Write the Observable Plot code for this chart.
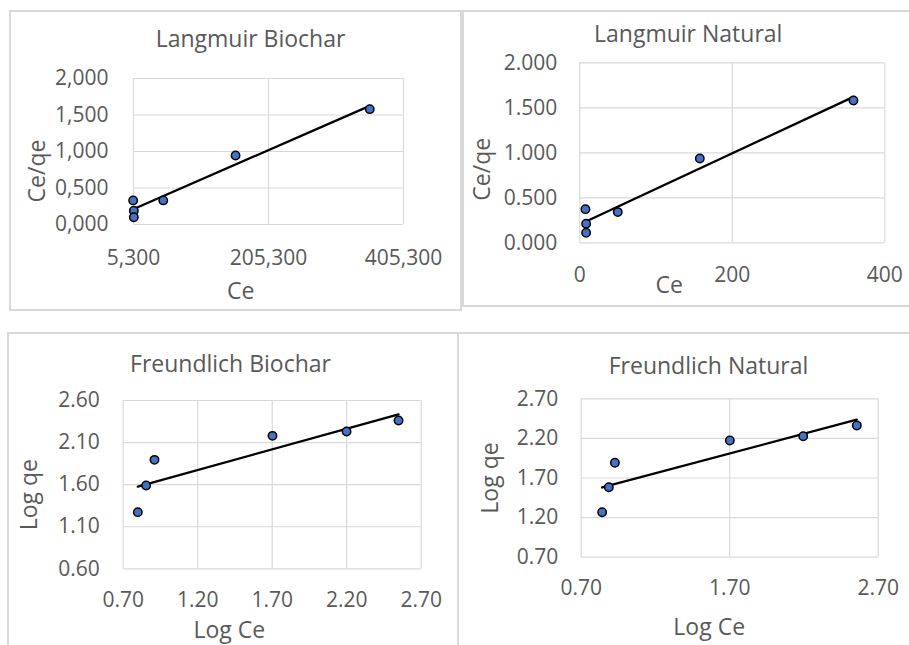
<!DOCTYPE html>
<html>
<head>
<meta charset="utf-8">
<script src="https://cdn.jsdelivr.net/npm/d3@7"></script>
<script src="https://cdn.jsdelivr.net/npm/@observablehq/plot@0.6"></script>
<style>
  html, body { margin: 0; padding: 0; background: #ffffff; }
  #page { position: relative; width: 909px; height: 645px; overflow: hidden; background: #ffffff; }
  .box { position: absolute; box-sizing: border-box; border: 2px solid #d9d9d9; background: #ffffff; }
  .plot { position: absolute; }
</style>
</head>
<body>
<div id="page"></div>
<script>
// ---------- Data ----------
// Langmuir Biochar
const lbCe   = [4.8, 5.8, 5.8, 49.4, 156.5, 355.3];
const lbCeQe = [0.33, 0.19, 0.10, 0.33, 0.945, 1.58];
// Langmuir Natural
const lnCe   = [7.4, 8.3, 8.3, 49.8, 157.4, 358.9];
const lnCeQe = [0.374, 0.211, 0.111, 0.341, 0.937, 1.581];
// Freundlich Biochar
const fbLogCe = [0.798, 0.854, 0.910, 1.702, 2.199, 2.548];
const fbLogQe = [1.273, 1.590, 1.895, 2.180, 2.232, 2.362];
// Freundlich Natural
const fnLogCe = [0.841, 0.886, 0.927, 1.701, 2.195, 2.556];
const fnLogQe = [1.268, 1.584, 1.892, 2.174, 2.228, 2.363];

// Tick values
const lbXTicks = [5.3, 205.3, 405.3];
const lbYTicks = [0, 0.5, 1.0, 1.5, 2.0];
const lnXTicks = [0, 200, 400];
const lnYTicks = [0, 0.5, 1.0, 1.5, 2.0];
const fbXTicks = [0.7, 1.2, 1.7, 2.2, 2.7];
const fbYTicks = [0.6, 1.1, 1.6, 2.1, 2.6];
const fnXTicks = [0.7, 1.7, 2.7];
const fnYTicks = [0.7, 1.2, 1.7, 2.2, 2.7];

// Titles / labels
const titles = ["Langmuir Biochar", "Langmuir Natural", "Freundlich Biochar", "Freundlich Natural"];
const xLabels = ["Ce", "Ce", "Log Ce", "Log Ce"];
const yLabels = ["Ce/qe", "Ce/qe", "Log qe", "Log qe"];

// ---------- Helpers ----------
const commaFmt = d => d.toFixed(3).replace(".", ",");
const dot3Fmt = d => d.toFixed(3);
const intFmt = d => d3.format("d")(d);
const dec2Fmt = d => d.toFixed(2);

const TEXT = "#595959";
const GRID = "#d9d9d9";
const DOT = "#4472C4";
const FONT = "'Open Sans', sans-serif";

const page = document.getElementById("page");

function panel(cfg) {
  const [bl, bt, bw, bh] = cfg.box;
  const box = document.createElement("div");
  box.className = "box";
  Object.assign(box.style, {left: bl + "px", top: bt + "px", width: bw + "px", height: bh + "px"});
  page.appendChild(box);

  const sl = bl + 2, st = bt + 2, W = bw - 4, H = bh - 4;
  const [x0, y0, x1, y1] = cfg.area;
  const data = cfg.xs.map((x, i) => ({x, y: cfg.ys[i]}));

  const chart = Plot.plot({
    width: W,
    height: H,
    marginLeft: x0 - sl,
    marginTop: y0 - st,
    marginRight: sl + W - x1,
    marginBottom: st + H - y1,
    style: {fontFamily: FONT, fontSize: "21px", color: TEXT, background: "transparent", overflow: "visible"},
    x: {domain: cfg.xDomain, ticks: cfg.xTicks, tickFormat: cfg.xFmt, tickSize: 0, tickPadding: cfg.xPad, label: null},
    y: {domain: cfg.yDomain, ticks: cfg.yTicks, tickFormat: cfg.yFmt, tickSize: 0, tickPadding: cfg.yPad, label: null},
    marks: [
      Plot.ruleY(cfg.yTicks, {stroke: GRID, strokeWidth: 1.2}),
      Plot.ruleX(cfg.xTicks, {stroke: GRID, strokeWidth: 1.2}),
      Plot.linearRegressionY(data, {x: "x", y: "y", ci: 0, stroke: "#000000", strokeWidth: 2.3}),
      Plot.dot(data, {x: "x", y: "y", r: 4.2, fill: DOT, stroke: "#000000", strokeWidth: 1.5}),
      Plot.text([cfg.title], {frameAnchor: "top-left", text: d => d, dx: cfg.titlePos[0] - x0, dy: cfg.titlePos[1] - y0,
        textAnchor: "middle", lineAnchor: "middle", fontSize: 23, fill: TEXT}),
      Plot.text([cfg.xLabel], {frameAnchor: "top-left", text: d => d, dx: cfg.xLabelPos[0] - x0, dy: cfg.xLabelPos[1] - y0,
        textAnchor: "middle", lineAnchor: "middle", fontSize: 23, fill: TEXT}),
      Plot.text([cfg.yLabel], {frameAnchor: "top-left", text: d => d, dx: cfg.yLabelPos[0] - x0, dy: cfg.yLabelPos[1] - y0,
        textAnchor: "middle", lineAnchor: "middle", rotate: -90, fontSize: 23, fill: TEXT})
    ]
  });
  chart.classList.add("plot");
  chart.style.left = sl + "px";
  chart.style.top = st + "px";
  page.appendChild(chart);
}

panel({
  box: [9, 10, 453, 301], area: [133, 78, 403, 224],
  xs: lbCe, ys: lbCeQe,
  xDomain: [5.3, 405.3], xTicks: lbXTicks, xFmt: commaFmt, xPad: 26,
  yDomain: [0, 2], yTicks: lbYTicks, yFmt: commaFmt, yPad: 25,
  title: titles[0], titlePos: [250, 38.7],
  xLabel: xLabels[0], xLabelPos: [240.3, 290.8],
  yLabel: yLabels[0], yLabelPos: [37.5, 170.5]
});

panel({
  box: [462, 10, 452, 297], area: [579.3, 62.3, 884.3, 242.3],
  xs: lnCe, ys: lnCeQe,
  xDomain: [0, 400], xTicks: lnXTicks, xFmt: intFmt, xPad: 24.4,
  yDomain: [0, 2], yTicks: lnYTicks, yFmt: dot3Fmt, yPad: 22.6,
  title: titles[1], titlePos: [687.7, 33.7],
  xLabel: xLabels[1], xLabelPos: [668.8, 285.5],
  yLabel: yLabels[1], yLabelPos: [482.3, 168.8]
});

panel({
  box: [7, 332, 452, 320], area: [122.7, 400, 420.7, 568.3],
  xs: fbLogCe, ys: fbLogQe,
  xDomain: [0.7, 2.7], xTicks: fbXTicks, xFmt: dec2Fmt, xPad: 23.4,
  yDomain: [0.6, 2.6], yTicks: fbYTicks, yFmt: dec2Fmt, yPad: 23.4,
  title: titles[2], titlePos: [230, 363.7],
  xLabel: xLabels[2], xLabelPos: [228.8, 630],
  yLabel: yLabels[2], yLabelPos: [29.5, 494.2]
});

panel({
  box: [457, 332, 457, 320], area: [580.7, 398.3, 877.7, 556.7],
  xs: fnLogCe, ys: fnLogQe,
  xDomain: [0.7, 2.7], xTicks: fnXTicks, xFmt: dec2Fmt, xPad: 23.3,
  yDomain: [0.7, 2.7], yTicks: fnYTicks, yFmt: dec2Fmt, yPad: 23,
  title: titles[3], titlePos: [708, 365.7],
  xLabel: xLabels[3], xLabelPos: [708.7, 626.7],
  yLabel: yLabels[3], yLabelPos: [490, 477.5]
});
</script>
</body>
</html>
